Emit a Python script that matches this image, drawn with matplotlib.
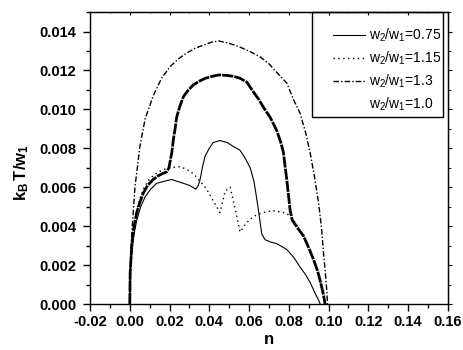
import matplotlib
matplotlib.use("Agg")
import matplotlib.pyplot as plt
from matplotlib.lines import Line2D
from matplotlib.patches import Rectangle
from matplotlib.ticker import MultipleLocator, FormatStrFormatter

plt.rcParams['font.family'] = ['Liberation Sans', 'DejaVu Sans']
plt.rcParams['axes.unicode_minus'] = False
plt.rcParams['mathtext.fontset'] = 'custom'
plt.rcParams['mathtext.rm'] = 'Liberation Sans'
plt.rcParams['mathtext.bf'] = 'Liberation Sans:bold'
plt.rcParams['mathtext.default'] = 'regular'

# w2/w1 = 0.75 (thin solid)
n_075 = [0, 0.0002, 0.001, 0.002, 0.0035, 0.0055, 0.0077, 0.0105, 0.0135, 0.017,
         0.0211, 0.024, 0.027, 0.030, 0.0333, 0.0345, 0.0354, 0.0365, 0.0379, 0.040,
         0.042, 0.0454, 0.049, 0.0521, 0.0555, 0.058, 0.0606, 0.0625, 0.0639, 0.0652,
         0.0664, 0.0681, 0.071, 0.074, 0.079, 0.0825, 0.0857, 0.0885, 0.0908, 0.093,
         0.095, 0.0958]
t_075 = [0, 0.0014, 0.0026, 0.0035, 0.0043, 0.0050, 0.0055, 0.0059, 0.0062, 0.0063,
         0.0064, 0.0063, 0.0062, 0.0061, 0.0059, 0.0061, 0.0064, 0.0070, 0.0076, 0.0080,
         0.0083, 0.0084, 0.0083, 0.0081, 0.0079, 0.0075, 0.0070, 0.0063, 0.0054, 0.0045,
         0.0036, 0.0033, 0.00318, 0.0031, 0.0028, 0.0024, 0.0019, 0.0015, 0.0011, 0.0006,
         0.0002, 0]

# w2/w1 = 1.15 (dotted)
n_115 = [0, 0.0002, 0.001, 0.002, 0.0035, 0.005, 0.0068, 0.009, 0.0118, 0.0165,
         0.0203, 0.0253, 0.029, 0.032, 0.0355, 0.0387, 0.042, 0.0454, 0.048, 0.0505,
         0.053, 0.0555, 0.059, 0.0622, 0.067, 0.0723, 0.079, 0.0824, 0.0874, 0.090,
         0.0924, 0.0945, 0.0958, 0.0972, 0.0985]
t_115 = [0, 0.0016, 0.0030, 0.0040, 0.0048, 0.0054, 0.0059, 0.0063, 0.0066, 0.0069,
         0.0070, 0.00706, 0.0069, 0.0067, 0.0063, 0.0059, 0.0053, 0.0047, 0.0058, 0.0060,
         0.0049, 0.0037, 0.0042, 0.0045, 0.0047, 0.0048, 0.00466, 0.0043, 0.0035, 0.0029,
         0.0023, 0.0017, 0.0012, 0.0006, 0]

# w2/w1 = 1.3 (dash-dot)
n_13 = [0, 0.0002, 0.001, 0.0026, 0.0051, 0.0077, 0.0118, 0.016, 0.0203, 0.0245,
        0.0287, 0.033, 0.037, 0.041, 0.0446, 0.050, 0.0555, 0.060, 0.0656, 0.070,
        0.074, 0.079, 0.0824, 0.0857, 0.0885, 0.0908, 0.093, 0.095, 0.0965, 0.0975,
        0.0985, 0.0992, 0.0995]
t_13 = [0, 0.0018, 0.0036, 0.0060, 0.0081, 0.0095, 0.0107, 0.0116, 0.0122, 0.0126,
        0.0129, 0.01315, 0.0133, 0.01345, 0.01352, 0.0134, 0.0132, 0.0130, 0.0127, 0.01235,
        0.0119, 0.01135, 0.0105, 0.0098, 0.0088, 0.00775, 0.0065, 0.0052, 0.0039, 0.0026,
        0.0015, 0.0006, 0]

# w2/w1 = 1.0 (thick dashed)
n_10 = [0, 0.0002, 0.001, 0.002, 0.0035, 0.005, 0.0068, 0.009, 0.0118, 0.0145,
        0.0165, 0.0186, 0.0197, 0.0211, 0.022, 0.0228, 0.0236, 0.025, 0.027, 0.0295,
        0.032, 0.035, 0.038, 0.0415, 0.0446, 0.0485, 0.0522, 0.0555, 0.0589, 0.0622,
        0.065, 0.0673, 0.0706, 0.074, 0.076, 0.0773, 0.078, 0.079, 0.0807, 0.0818,
        0.0845, 0.0874, 0.090, 0.0924, 0.0945, 0.0958, 0.0972, 0.0983]
t_10 = [0, 0.0016, 0.0030, 0.0039, 0.0047, 0.0052, 0.0057, 0.0061, 0.0064, 0.0066,
        0.0067, 0.0068, 0.0070, 0.00775, 0.0085, 0.0090, 0.0096, 0.0101, 0.01066, 0.0110,
        0.01126, 0.01145, 0.0116, 0.0117, 0.01177, 0.01175, 0.0117, 0.0116, 0.0114, 0.0109,
        0.0105, 0.0101, 0.0096, 0.0089, 0.0083, 0.0078, 0.0072, 0.0064, 0.0048, 0.0043,
        0.0039, 0.0035, 0.0029, 0.0023, 0.0017, 0.0012, 0.0006, 0]

labels = ['w$_2$/w$_1$=0.75', 'w$_2$/w$_1$=1.15', 'w$_2$/w$_1$=1.3', 'w$_2$/w$_1$=1.0']

fig = plt.figure(figsize=(4.64, 3.5), dpi=100)
ax = fig.add_axes([0.194, 0.1314, 0.771, 0.834])

ax.plot(n_075, t_075, color='black', lw=0.8, ls='-')
ax.plot(n_115, t_115, color='black', lw=1.0, ls=(0, (1, 2.5)))
ax.plot(n_13, t_13, color='black', lw=1.0, ls=(0, (4, 1.5, 1, 1.5)))
ax.plot(n_10, t_10, color='black', lw=2.0, ls=(0, (4, 0.4)))

ax.set_xlim(-0.02, 0.16)
ax.set_ylim(0, 0.015)
ax.xaxis.set_major_locator(MultipleLocator(0.02))
ax.xaxis.set_minor_locator(MultipleLocator(0.01))
ax.yaxis.set_minor_locator(MultipleLocator(0.001))
ax.xaxis.set_major_formatter(FormatStrFormatter('%.2f'))
ax.yaxis.set_major_formatter(FormatStrFormatter('%.3f'))
ax.set_yticks([0, 0.002, 0.004, 0.006, 0.008, 0.010, 0.012, 0.014])

ax.tick_params(which='both', direction='out', top=False, right=False)
ax.tick_params(which='major', length=5, width=1, labelsize=10.5)
ax.tick_params(axis='y', which='major', pad=5)
ax.tick_params(axis='x', which='major', pad=3)
ax.tick_params(which='minor', length=3, width=1)
for lab in ax.get_xticklabels() + ax.get_yticklabels():
    lab.set_fontweight('bold')

# short ticks on the right and top sides
axr = ax.secondary_yaxis('right')
axr.yaxis.set_major_locator(MultipleLocator(0.002))
axr.yaxis.set_minor_locator(MultipleLocator(0.001))
axr.tick_params(which='major', direction='out', length=3, labelright=False)
axr.tick_params(which='minor', direction='out', length=2)
axt = ax.secondary_xaxis('top')
axt.xaxis.set_major_locator(MultipleLocator(0.02))
axt.xaxis.set_minor_locator(MultipleLocator(0.01))
axt.tick_params(which='major', direction='in', length=2, labeltop=False)
axt.tick_params(which='minor', direction='in', length=1)

for sp in ax.spines.values():
    sp.set_linewidth(1)

ax.set_xlabel('n', fontsize=12, fontweight='bold', labelpad=2)
ax.set_ylabel(r'$\mathbf{k_B\,T/w_1}$', fontsize=12)
ax.yaxis.set_label_coords(-0.165, 0.45)

handles = [
    Line2D([], [], color='black', lw=0.8, ls='-'),
    Line2D([], [], color='black', lw=1.0, ls=(0, (1, 2.5))),
    Line2D([], [], color='black', lw=1.0, ls=(0, (4, 1.5, 1, 1.5))),
    Line2D([], [], color='none', lw=0),
]
ax.legend(handles, labels, loc='upper right', bbox_to_anchor=(0.99, 0.96),
          frameon=False, fontsize=10, handlelength=2.3, handletextpad=0.3,
          labelspacing=0.4, borderaxespad=0, borderpad=0.2)
ax.add_patch(Rectangle((0.62, 0.64), 0.368, 0.361, transform=ax.transAxes,
                       fill=False, edgecolor='black', lw=1, clip_on=False))

fig.savefig('out.png', dpi=100)
